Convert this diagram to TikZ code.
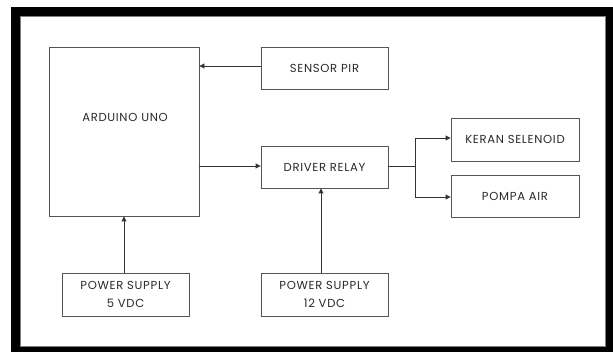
\documentclass[tikz,border=0pt]{standalone}
\usepackage{fontspec}
\setmainfont{Poppins}[LetterSpace=6]
\usetikzlibrary{arrows.meta}
\definecolor{boxline}{HTML}{555555}
\definecolor{wire}{HTML}{333333}
\definecolor{txt}{HTML}{2A2A2A}
\begin{document}
\begin{tikzpicture}[x=1pt,y=-1pt,
  lbl/.style={text=txt,font=\fontsize{11.6}{13}\selectfont},
  blk/.style={draw=boxline,line width=0.9pt,inner sep=0pt,lbl},
  conn/.style={draw=wire,line width=0.9pt,-{Triangle[length=5pt,width=5pt]}},
  plain/.style={draw=wire,line width=0.9pt}]
\useasboundingbox (0,0) rectangle (613,352);
% frame
\fill[black] (11,7) rectangle (613,352);
\fill[white,draw=gray,line width=0.8pt] (20,16) rectangle (605.5,346);
% boxes
\node[blk,minimum width=150pt,minimum height=169pt] (ard) at (124,131.5) {};
\node[lbl] (ardt) at (125,117) {ARDUINO UNO};
\node[blk,minimum width=127pt,minimum height=42pt] (pir) at (324.5,68) {SENSOR PIR};
\node[blk,minimum width=127pt,minimum height=42pt] (drv) at (324.5,167) {DRIVER RELAY};
\node[blk,minimum width=128pt,minimum height=43pt] (ker) at (515,139.5) {KERAN SELENOID};
\node[blk,minimum width=128pt,minimum height=42pt] (pom) at (515,196) {POMPA AIR};
\node[blk,minimum width=127pt,minimum height=43pt,align=center] (ps5) at (125.5,294.5) {POWER SUPPLY\\[5pt]5 VDC};
\node[blk,minimum width=127pt,minimum height=43pt,align=center] (ps12) at (324.5,294.5) {POWER SUPPLY\\[5pt]12 VDC};
\coordinate (br) at (415,166);
% connectors
\draw[conn] (pir.west |- 0,66) -- (ard.east |- 0,66);
\draw[conn] (ard.east |- 0,166) -- (drv.west |- 0,166);
\draw[plain] (drv.east |- br) -- (br);
\draw[conn] (br) |- (ker.west |- 0,138);
\draw[conn] (br) |- (pom.west |- 0,197);
\draw[conn] (ps5.north -| ard.south) -- (ard.south);
\draw[conn] (ps12.north -| 321,0) -- (drv.south -| 321,0);
\end{tikzpicture}
\end{document}
